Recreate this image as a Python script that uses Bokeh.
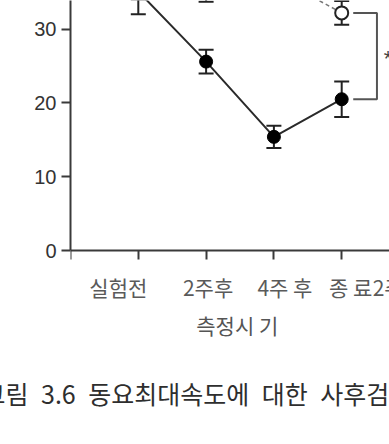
from bokeh.plotting import figure
from bokeh.models import Range1d, FixedTicker, Whisker, ColumnDataSource, Label, TeeHead, Title
from bokeh.embed import file_html
from bokeh.resources import INLINE

# ---- data ----
x_labels = ["실험전", "2주후", "4주 후", "종 료"]
x_pos = [1, 2, 3, 4]
filled_mean = [35.1, 25.6, 15.4, 20.5]
filled_err = [3.1, 1.6, 1.5, 2.4]
open_mean = [35.5, 35.3, 37.2, 32.2]
open_err = [1.5, 1.6, 1.6, 1.6]
y_ticks = [0, 10, 20, 30]
x_title = "측정시 기"
caption_words = ["그림", "3.6", "동요최대속도에", "대한", "사후검정"]
next_label = "2주후"

AX = "#3a3a3a"
Y_TOP = 33.88
FRAME_BOTTOM = 350
PX_PER_UNIT = 7.38
y_min = -(FRAME_BOTTOM - 250) / PX_PER_UNIT

p = figure(width=389, height=444, output_backend="svg", toolbar_location=None,
           x_range=Range1d(0, 4.705), y_range=Range1d(y_min, Y_TOP),
           min_border_left=70, min_border_right=0, min_border_top=0,
           min_border_bottom=444 - FRAME_BOTTOM)
p.outline_line_color = None
p.grid.visible = False
p.background_fill_color = "white"
p.border_fill_color = "white"

# axes
p.xaxis.fixed_location = 0
p.xaxis.ticker = FixedTicker(ticks=[0] + x_pos)
p.xaxis.major_label_overrides = {t: "" for t in [0] + x_pos}
p.xaxis.major_label_text_font_size = "1px"
p.xaxis.major_label_standoff = 0
p.yaxis.ticker = FixedTicker(ticks=y_ticks)
p.yaxis.bounds = (0, Y_TOP)
for ax in (p.xaxis, p.yaxis):
    ax.axis_line_color = AX
    ax.axis_line_width = 2
    ax.major_tick_line_color = AX
    ax.major_tick_line_width = 2
    ax.major_tick_out = 9
    ax.major_tick_in = 0
    ax.minor_tick_line_color = None
p.yaxis.major_label_text_font = "Liberation Sans"
p.yaxis.major_label_text_font_size = "20px"
p.yaxis.major_label_text_color = "#333333"
p.yaxis.major_label_standoff = 5

# series
src_f = ColumnDataSource(dict(x=x_pos, y=filled_mean,
                              lo=[m - e for m, e in zip(filled_mean, filled_err)],
                              hi=[m + e for m, e in zip(filled_mean, filled_err)]))
src_o = ColumnDataSource(dict(x=x_pos, y=open_mean,
                              lo=[m - e for m, e in zip(open_mean, open_err)],
                              hi=[m + e for m, e in zip(open_mean, open_err)]))

p.line("x", "y", source=src_o, line_color="#777777", line_width=1.5, line_dash="4 3")
p.line("x", "y", source=src_f, line_color="#2a2a2a", line_width=2)

for src in (src_f, src_o):
    w = Whisker(source=src, base="x", upper="hi", lower="lo", dimension="height",
                line_color="#222222", line_width=2,
                upper_head=TeeHead(size=15, line_width=2, line_color="#222222"),
                lower_head=TeeHead(size=15, line_width=2, line_color="#222222"))
    p.add_layout(w)

p.scatter("x", "y", source=src_f, size=13, fill_color="black", line_color="black")
p.scatter("x", "y", source=src_o, size=13, fill_color="white", line_color="#222222", line_width=2)

# significance bracket at last time point
bx0, bx1 = x_pos[-1] + 0.17, x_pos[-1] + 0.52
p.line([bx0, bx1, bx1, bx0], [open_mean[-1], open_mean[-1], filled_mean[-1], filled_mean[-1]],
       line_color="#555555", line_width=2)
p.add_layout(Label(x=x_pos[-1] + 0.62, y=(open_mean[-1] + filled_mean[-1]) / 2 - 0.3, text="*",
                   text_font="Liberation Sans", text_font_size="22px", text_color="#444444",
                   text_align="left", text_baseline="middle"))

# x tick labels (gray)
offsets = [-20, 2, 11, 9]
for xp, lab, dx in zip(x_pos, x_labels, offsets):
    p.add_layout(Label(x=xp, y=0, x_offset=dx, y_offset=-36, text=lab,
                       text_font="Noto Sans CJK KR", text_font_size="21px",
                       text_color="#5a5a5a", text_align="center", text_baseline="middle"))
p.add_layout(Label(x=x_pos[-1], y=0, x_offset=31, y_offset=-36, text=next_label,
                   text_font="Noto Sans CJK KR", text_font_size="21px",
                   text_color="#5a5a5a", text_align="left", text_baseline="middle"))

# axis title
p.add_layout(Label(x=2.46, y=0, y_offset=-74, text=x_title,
                   text_font="Noto Sans CJK KR", text_font_size="21px",
                   text_color="#555555", text_align="center", text_baseline="middle"))

# caption
p.add_layout(Title(text="\u2002".join(caption_words), align="left", offset=-88, standoff=45,
                   text_font="Noto Sans CJK KR", text_font_size="25px",
                   text_font_style="normal", text_color="#2e2e2e"), "below")

open("out.html", "w").write(file_html(p, INLINE))
